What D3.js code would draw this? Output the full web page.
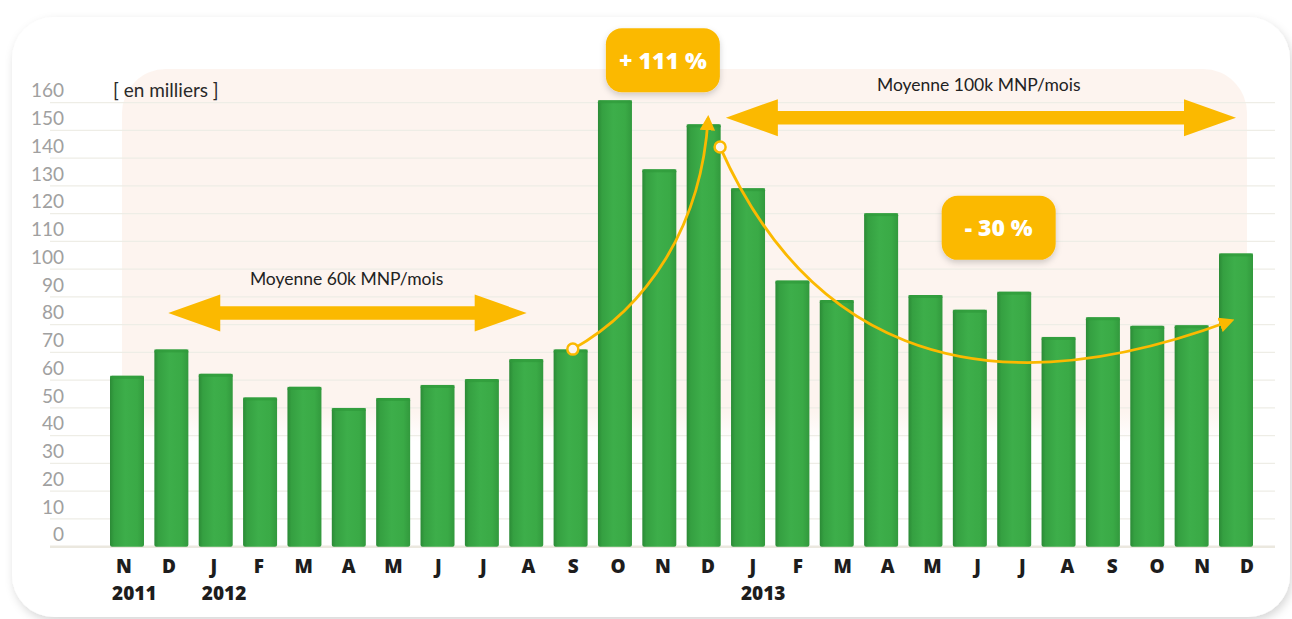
<!DOCTYPE html>
<html><head><meta charset="utf-8">
<script src="https://cdn.jsdelivr.net/npm/d3@7"></script>
<style>
html,body{margin:0;padding:0;background:#fff;}
svg{display:block;}
</style></head>
<body>
<svg id="chart" width="1292" height="619"></svg>
<script>
// ---- data ----
const months = ["N","D","J","F","M","A","M","J","J","A","S","O","N","D","J","F","M","A","M","J","J","A","S","O","N","D"];
const years  = [{i:0,label:"2011"},{i:2,label:"2012"},{i:14,label:"2013"}];
const values = [61.6,71.1,62.3,53.8,57.6,50,53.6,58.3,60.4,67.6,71.1,160.9,136,152.2,129.2,95.9,88.9,120.2,90.7,85.4,91.9,75.6,82.7,79.6,79.8,105.7];
const yTicks = [0,10,20,30,40,50,60,70,80,90,100,110,120,130,140,150,160];
const unitLabel = "[ en milliers ]";
const avgLabels = ["Moyenne 60k MNP/mois","Moyenne 100k MNP/mois"];
const pctLabels = ["+ 111 %","- 30 %"];

const svg = d3.select("#chart");
const yellow = "#fbb900";

const idx = d3.range(months.length);
const x = d3.scalePoint().domain(idx).range([127,1236]);
const xl = d3.scalePoint().domain(idx).range([124,1247]);
const xi = d3.scaleLinear().domain([0,months.length-1]).range([127,1236]);
const y = d3.scaleLinear().domain([0,160]).range([546.7,102.7]);
const bw = 34;

const defs = svg.append("defs");
const sh = defs.append("filter").attr("id","cardShadow").attr("x","-5%").attr("y","-5%").attr("width","110%").attr("height","115%");
sh.append("feDropShadow").attr("dx",2).attr("dy",4).attr("stdDeviation",5).attr("flood-color","#000").attr("flood-opacity",0.16);
const bs = defs.append("filter").attr("id","boxShadow").attr("x","-20%").attr("y","-20%").attr("width","140%").attr("height","150%");
bs.append("feDropShadow").attr("dx",0).attr("dy",3).attr("stdDeviation",3).attr("flood-color","#000").attr("flood-opacity",0.18);

const g = defs.append("linearGradient").attr("id","barGrad").attr("x1",0).attr("x2",1).attr("y1",0).attr("y2",0);
[["0%","#2b8a36"],["12%","#35a041"],["45%","#3dae4a"],["80%","#3aaa46"],["100%","#32993d"]].forEach(s=>g.append("stop").attr("offset",s[0]).attr("stop-color",s[1]));
const pg = defs.append("linearGradient").attr("id","pinkGrad").attr("x1",0).attr("x2",0).attr("y1",0).attr("y2",1);
[["0%","#fdf4ef",1],["92%","#fdf4ef",1],["100%","#fdf4ef",0]].forEach(s=>pg.append("stop").attr("offset",s[0]).attr("stop-color",s[1]).attr("stop-opacity",s[2]));

// card
svg.append("rect").attr("x",12).attr("y",17).attr("width",1278).attr("height",600).attr("rx",42)
  .attr("fill","#fff").attr("filter","url(#cardShadow)");

// pink region
svg.append("rect").attr("x",122).attr("y",69).attr("width",1125).attr("height",372).attr("rx",44)
  .attr("fill","url(#pinkGrad)");

// gridlines
svg.append("g").selectAll("line").data(yTicks.filter(d=>d>0)).join("line")
  .attr("x1",50).attr("x2",1275).attr("y1",d=>y(d)).attr("y2",d=>y(d))
  .attr("stroke","#eeede6").attr("stroke-width",1.2);
svg.append("line").attr("x1",50).attr("x2",1275).attr("y1",y(0)).attr("y2",y(0))
  .attr("stroke","#ebe8df").attr("stroke-width",2.5);

// y labels
svg.append("g").selectAll("text").data(yTicks).join("text")
  .attr("x",64).attr("y",d=>y(d)-12).attr("dy","0.35em").attr("text-anchor","end")
  .attr("font-family","Lato, sans-serif").attr("font-size",19).attr("fill","#a0a0a0")
  .text(d=>d);

svg.append("text").attr("x",113).attr("y",90).attr("dy","0.35em")
  .attr("font-family","Lato, sans-serif").attr("font-size",19).attr("fill","#2a2a2a")
  .text(unitLabel);

// bars
svg.append("g").selectAll("rect").data(values).join("rect")
  .attr("x",(d,i)=>x(i)-bw/2).attr("width",bw)
  .attr("y",d=>y(d)).attr("height",d=>y(0)-y(d))
  .attr("rx",2).attr("fill","url(#barGrad)");
svg.append("g").selectAll("rect").data(values).join("rect")
  .attr("x",(d,i)=>x(i)-bw/2).attr("width",bw)
  .attr("y",d=>y(d)).attr("height",3)
  .attr("fill","#2f9a3b").attr("opacity",0.7);

// month labels
svg.append("g").selectAll("text").data(months).join("text")
  .attr("x",(d,i)=>xl(i)).attr("y",566).attr("dy","0.35em").attr("text-anchor","middle")
  .attr("font-family","'Open Sans', sans-serif").attr("font-weight",800).attr("font-size",19).attr("fill","#1d1d1d")
  .text(d=>d);
svg.append("g").selectAll("text").data(years).join("text")
  .attr("x",d=>xl(d.i)-12).attr("y",593).attr("dy","0.35em").attr("text-anchor","start")
  .attr("font-family","'Open Sans', sans-serif").attr("font-weight",800).attr("font-size",19).attr("fill","#1d1d1d")
  .text(d=>d.label);

// double arrows
function dblArrow(x1,x2,yy){
  const sh2=6.7, hh=18.5, hl=52;
  const pts=[[x1,yy],[x1+hl,yy-hh],[x1+hl,yy-sh2],[x2-hl,yy-sh2],[x2-hl,yy-hh],[x2,yy],[x2-hl,yy+hh],[x2-hl,yy+sh2],[x1+hl,yy+sh2],[x1+hl,yy+hh]];
  svg.append("polygon").attr("points",pts.map(p=>p.join(",")).join(" ")).attr("fill",yellow);
}
dblArrow(xi(0.93), xi(9.01), y(84.2));
dblArrow(xi(13.5), xi(25), y(154.6));

svg.append("text").attr("x",xi(4.95)).attr("y",y(96.5)).attr("dy","0.35em").attr("text-anchor","middle")
  .attr("font-family","Lato, sans-serif").attr("font-size",17.5).attr("fill","#222").text(avgLabels[0]);
svg.append("text").attr("x",xi(19.2)).attr("y",y(166.6)).attr("dy","0.35em").attr("text-anchor","middle")
  .attr("font-family","Lato, sans-serif").attr("font-size",17.5).attr("fill","#222").text(avgLabels[1]);

// curves
const m = defs.append("marker").attr("id","ah").attr("viewBox","0 0 10 10").attr("refX",8).attr("refY",5)
  .attr("markerWidth",5.5).attr("markerHeight",5.5).attr("orient","auto-start-reverse").attr("markerUnits","strokeWidth");
m.append("path").attr("d","M0,0 L10,5 L0,10 z").attr("fill",yellow);

const c1 = d3.path();
c1.moveTo(xi(10.05), y(71.2));
c1.bezierCurveTo(xi(11.7), y(86), xi(12.95), y(115), xi(13.1), y(154.5));
svg.append("path").attr("d",c1.toString()).attr("fill","none").attr("stroke",yellow).attr("stroke-width",2.8).attr("marker-end","url(#ah)");

const c2 = d3.path();
c2.moveTo(xi(13.37), y(144));
c2.bezierCurveTo(xi(15.2), y(78), xi(18.8), y(45), xi(24.9), y(81.5));
svg.append("path").attr("d",c2.toString()).attr("fill","none").attr("stroke",yellow).attr("stroke-width",2.8).attr("marker-end","url(#ah)");

svg.append("circle").attr("cx",xi(10.05)).attr("cy",y(71.2)).attr("r",5.5).attr("fill","#fdf4ef").attr("stroke",yellow).attr("stroke-width",2.5);
svg.append("circle").attr("cx",xi(13.37)).attr("cy",y(144)).attr("r",5.5).attr("fill","#fdf4ef").attr("stroke",yellow).attr("stroke-width",2.5);

// pct boxes
function pctBox(cx,cy,label){
  const w=114,h=64;
  svg.append("rect").attr("x",cx-w/2).attr("y",cy-h/2).attr("width",w).attr("height",h).attr("rx",16)
    .attr("fill",yellow).attr("filter","url(#boxShadow)");
  svg.append("text").attr("x",cx).attr("y",cy).attr("dy","0.36em").attr("text-anchor","middle")
    .attr("font-family","'Open Sans', sans-serif").attr("font-weight",800).attr("font-size",23).attr("fill","#fff").text(label);
}
pctBox(xi(12.08), y(175.3), pctLabels[0]);
pctBox(xi(19.65), y(114.9), pctLabels[1]);
</script>
</body></html>
